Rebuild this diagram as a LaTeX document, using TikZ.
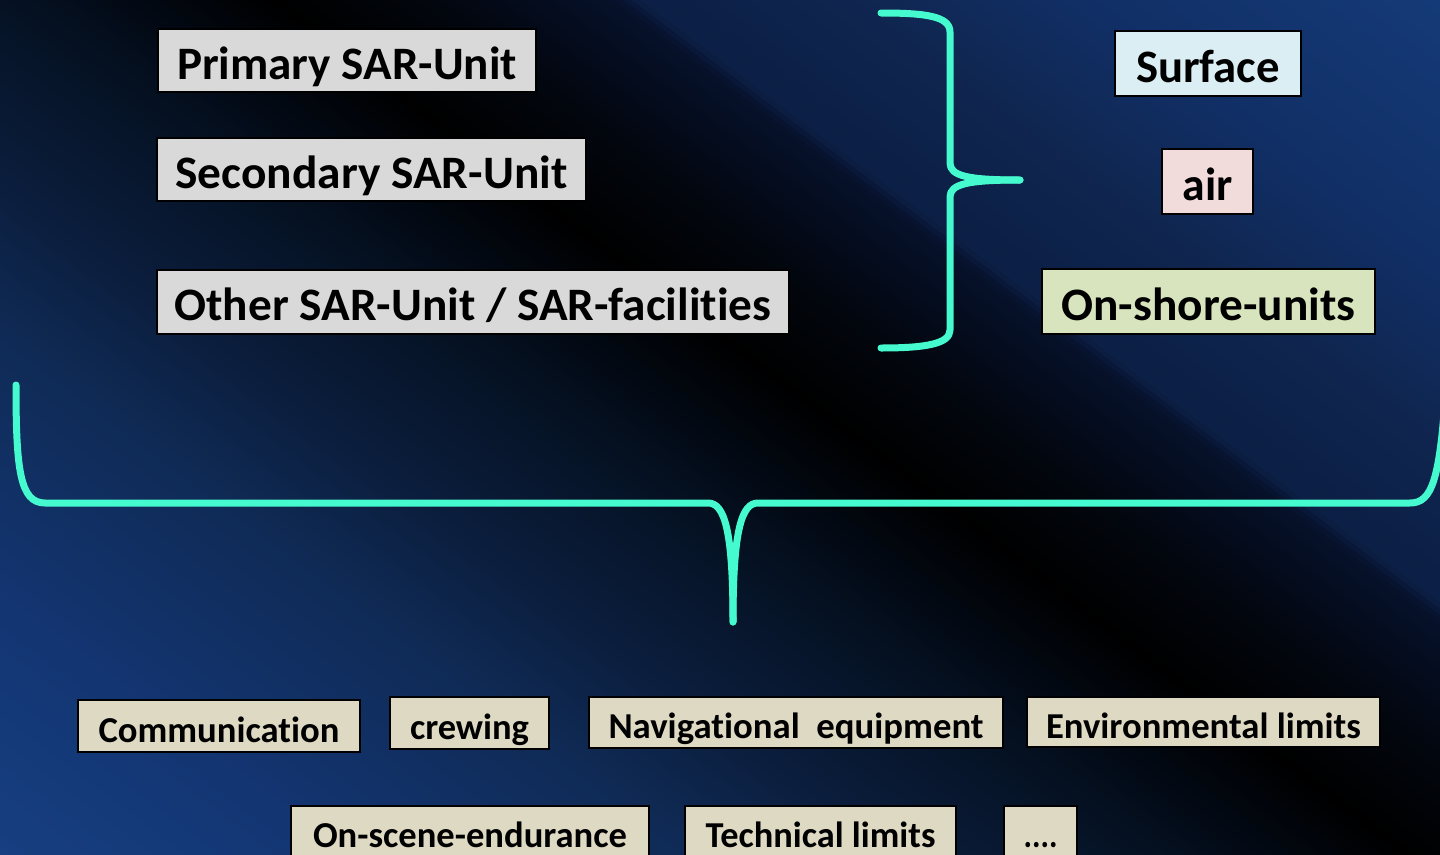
\documentclass[tikz,border=0pt]{standalone}
\usepackage{fontspec}
\setmainfont{Carlito}[Ligatures={NoCommon,NoContextual}, Contextuals=NoAlternate]
\usepackage{graphicx}

% background gradient stops (navy with a black diagonal band)
\definecolor{bgA}{HTML}{174082}
\definecolor{bgB}{HTML}{133572}
\definecolor{bgC}{HTML}{0F2A55}
\definecolor{bgD}{HTML}{0B1D3C}
\definecolor{bgE}{HTML}{061428}
\definecolor{bgF}{HTML}{030B18}
\definecolor{bgG}{HTML}{000000}
\definecolor{bgH}{HTML}{02060E}
\definecolor{bgI}{HTML}{06112A}
\definecolor{bgJ}{HTML}{0C1F45}
\definecolor{bgK}{HTML}{0F2650}
\definecolor{bgL}{HTML}{112F66}
\definecolor{bgM}{HTML}{153C7A}

\definecolor{braceC}{RGB}{68,250,206}
\definecolor{boxgray}{HTML}{D9D9D9}
\definecolor{boxblue}{HTML}{DBEEF4}
\definecolor{boxrose}{HTML}{F2DCDB}
\definecolor{boxgreen}{HTML}{D7E4BD}
\definecolor{boxsand}{HTML}{DDD9C3}

% label stretched horizontally to a given width (in pt)
\newlength\lblnat
\newcommand\lbl[2]{\settowidth\lblnat{#2}\scalebox{\fpeval{#1/\lblnat}}[1]{#2}}
% keeps t and i as separate glyphs
\newcommand\nolig{\kern0pt }

\tikzset{
  box/.style={draw=black, line width=1.6pt, inner sep=0pt, text=black, anchor=center},
  bigtxt/.style={font=\fontsize{46.5}{52}\selectfont\bfseries, text height=37.5pt, text depth=0pt},
  smalltxt/.style={font=\fontsize{36.5}{42}\selectfont\bfseries, text height=32pt, text depth=0pt},
  lowtxt/.style={smalltxt, text height=30pt},
  brace/.style={draw=braceC, line width=7pt, line cap=round, line join=round}
}

\begin{document}
\begin{tikzpicture}[x=1pt, y=-1pt]
\useasboundingbox (0,0) rectangle (1440,854);
\begin{scope}
\clip (0,0) rectangle (1440,854);

% diagonal gradient built from thin stripes along s = 0.602x - 0.799y
\foreach \sa/\sb/\ca/\cb in {-700/-480/bgA/bgB, -480/-260/bgB/bgC, -260/-140/bgC/bgD,
    -140/-20/bgD/bgE, -20/60/bgE/bgF, 60/165/bgF/bgG, 165/260/bgG/bgH,
    260/370/bgH/bgI, 370/385/bgI/bgJ, 385/520/bgJ/bgK, 520/650/bgK/bgL, 650/900/bgL/bgM}{
  \pgfmathtruncatemacro\n{max(1,round((\sb-(\sa))/5))}
  \pgfmathsetmacro\seg{(\sb-(\sa))/\n}
  \foreach \k in {1,...,\n}{
    \pgfmathsetmacro\c{\sa+(\k-1)*\seg}
    \pgfmathsetmacro\w{\seg+1.5}
    \pgfmathsetmacro\xa{0.602*(\c)-159.8}
    \pgfmathsetmacro\ya{-0.799*(\c)-120.4}
    \pgfmathsetmacro\dx{0.602*(\w)}
    \pgfmathsetmacro\dy{-0.799*(\w)}
    \pgfmathtruncatemacro\p{round(100*(\k-0.5)/\n)}
    \fill[\cb!\p!\ca] (\xa,\ya) -- ++(1677.9,1264.2) -- ++(\dx,\dy)
      -- ++(-1677.9,-1264.2) -- cycle;
  }
}

% upper-left group
\node[box, bigtxt, fill=boxgray, minimum width=378, minimum height=63] (primary) at (347,60.5) {\lbl{340}{Primary SAR-Unit}};
\node[box, bigtxt, fill=boxgray, minimum width=429, minimum height=63] (secondary) at (371.5,169.5) {\lbl{392}{Secondary SAR-Unit}};
\node[box, bigtxt, fill=boxgray, minimum width=632, minimum height=64] (other) at (473,302) {\lbl{597}{Other SAR-Unit / SAR-facilit\nolig ies}};

% right group
\node[box, bigtxt, fill=boxblue, minimum width=186, minimum height=65] (surface) at (1208,63.5) {\lbl{144}{Surface}};
\node[box, bigtxt, fill=boxrose, minimum width=91, minimum height=65] (air) at (1207.5,181.5) {\lbl{50}{air}};
\node[box, bigtxt, fill=boxgreen, minimum width=333, minimum height=65] (onshore) at (1208.5,301.5) {\lbl{294}{On-shore-units}};

% right-hand brace
\coordinate (rbTop) at (881,13);
\coordinate (rbTip) at (1020,180);
\coordinate (rbBot) at (881,348);
\draw[brace] (rbTop) .. controls (925,13) and (950,16) .. (950,32) -- (950,163)
  .. controls (950,176) and (968,180) .. (rbTip);
\draw[brace] (rbTip) .. controls (968,180) and (950,184) .. (950,197) -- (950,330)
  .. controls (950,344) and (925,348) .. (rbBot);

% wide brace
\coordinate (wbLeft) at (16,385);
\coordinate (wbTip) at (733,622);
\coordinate (wbRight) at (1446,385);
\draw[brace] (wbLeft) .. controls (16,470) and (20,503) .. (45,503) -- (708,503)
  .. controls (724,503) and (733,528) .. (wbTip);
\draw[brace] (wbTip) .. controls (733,528) and (742,503) .. (758,503) -- (1410,503)
  .. controls (1432,503) and (1440,480) .. (wbRight);

% criteria boxes
\node[box, smalltxt, fill=boxsand, minimum width=282, minimum height=52] (comm) at (219,726) {\lbl{241}{Communicat\nolig ion}};
\node[box, smalltxt, fill=boxsand, minimum width=159, minimum height=52] (crew) at (469.5,723) {\lbl{119}{crewing}};
\node[box, smalltxt, fill=boxsand, minimum width=414, minimum height=51] (nav) at (796,722.5) {\lbl{375}{Navigat\nolig ional\ \ equipment}};
\node[box, smalltxt, fill=boxsand, minimum width=353, minimum height=50] (env) at (1203.5,722) {\lbl{315}{Environmental limits}};
\node[box, lowtxt, fill=boxsand, minimum width=358, minimum height=52] (endur) at (470,832) {\lbl{314}{On-scene-endurance}};
\node[box, lowtxt, fill=boxsand, minimum width=271, minimum height=52] (tech) at (820.5,832) {\lbl{230}{Technical limits}};
\node[box, lowtxt, fill=boxsand, minimum width=73, minimum height=52] (more) at (1040.5,832) {\lbl{34}{....}};
\end{scope}
\end{tikzpicture}
\end{document}
